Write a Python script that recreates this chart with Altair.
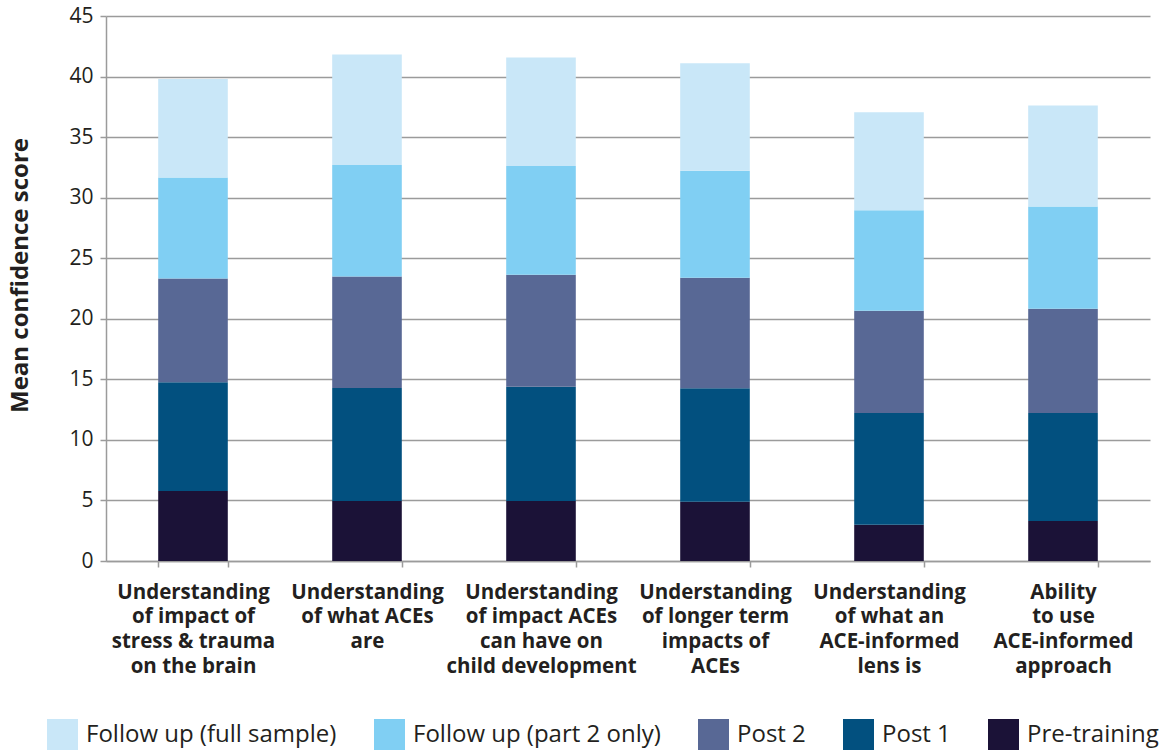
import altair as alt
import pandas as pd

# Outcome items (line breaks marked with "|")
categories = [
    "Understanding|of impact of|stress & trauma|on the brain",
    "Understanding|of what ACEs|are",
    "Understanding|of impact ACEs|can have on|child development",
    "Understanding|of longer term|impacts of|ACEs",
    "Understanding|of what an|ACE-informed|lens is",
    "Ability|to use|ACE-informed|approach",
]

# Survey stages, legend order (top of stack first)
stages = [
    "Follow up (full sample)",
    "Follow up (part 2 only)",
    "Post 2",
    "Post 1",
    "Pre-training",
]
stage_colors = ["#C9E7F8", "#80CFF3", "#586895", "#02507F", "#1B1237"]

# Mean confidence score per stage (stacked segment heights)
pre_training = [5.77, 4.95, 4.95, 4.90, 3.00, 3.30]
post_1 = [8.99, 9.34, 9.43, 9.36, 9.23, 8.93]
post_2 = [8.57, 9.21, 9.25, 9.13, 8.44, 8.60]
follow_part2 = [8.33, 9.20, 8.99, 8.84, 8.30, 8.44]
follow_full = [8.14, 9.13, 8.96, 8.86, 8.08, 8.35]

series = {
    "Pre-training": pre_training,
    "Post 1": post_1,
    "Post 2": post_2,
    "Follow up (part 2 only)": follow_part2,
    "Follow up (full sample)": follow_full,
}

rows = []
for stack_pos, (stage, vals) in enumerate(series.items()):
    for cat, v in zip(categories, vals):
        rows.append({"category": cat, "stage": stage, "score": v, "stack": stack_pos})
df = pd.DataFrame(rows)

FONT = "Open Sans"
TEXT = "#231F20"
GRID = "#9B9B9B"

chart = (
    alt.Chart(df)
    .mark_bar()
    .encode(
        x=alt.X(
            "category:N",
            sort=categories,
            scale=alt.Scale(paddingInner=0.6, paddingOuter=0.3),
            axis=alt.Axis(
                title=None,
                labelExpr="split(datum.label, '|')",
                labelAngle=0,
                labelFont=FONT,
                labelFontSize=20.5,
                labelFontWeight="bold",
                labelLineHeight=24.7,
                labelColor=TEXT,
                labelPadding=15,
                labelLimit=260,
                tickBand="extent",
                tickSize=6,
                tickColor=GRID,
                tickWidth=1.5,
                domainColor=GRID,
                domainWidth=1.5,
            ),
        ),
        y=alt.Y(
            "score:Q",
            stack="zero",
            scale=alt.Scale(domain=[0, 45], nice=False),
            axis=alt.Axis(
                values=list(range(0, 46, 5)),
                title="Mean confidence score",
                titleFont=FONT,
                titleFontSize=24,
                titleFontWeight="bold",
                titleColor=TEXT,
                titlePadding=36,
                titleY=259,
                labelFont=FONT,
                labelFontSize=21,
                labelColor=TEXT,
                labelPadding=7,
                tickSize=6,
                tickColor=GRID,
                tickWidth=1.5,
                domainColor=GRID,
                domainWidth=1.5,
                grid=True,
                gridColor=GRID,
                gridWidth=1.5,
            ),
        ),
        color=alt.Color(
            "stage:N",
            scale=alt.Scale(domain=stages, range=stage_colors),
            legend=alt.Legend(
                title=None,
                orient="none",
                direction="horizontal",
                legendX=-59,
                legendY=703,
                symbolType="square",
                symbolSize=961,
                symbolStrokeWidth=0,
                labelFont=FONT,
                labelFontSize=24,
                labelColor=TEXT,
                labelOffset=8,
                columnPadding=37,
                labelLimit=400,
            ),
        ),
        order=alt.Order("stack:Q", sort="ascending"),
    )
    .properties(
        width=1044,
        height=545,
        autosize=alt.AutoSizeParams(type="none"),
        padding={"left": 106, "top": 16, "right": 9, "bottom": 192},
        background="white",
    )
    .configure_view(stroke=None)
)

chart.save("out.html", embed_options={"renderer": "svg", "actions": False})
